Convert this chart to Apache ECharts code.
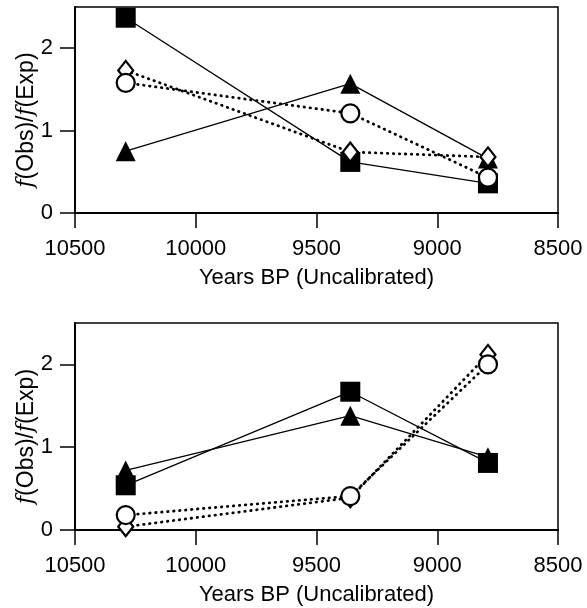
<!DOCTYPE html>
<html>
<head>
<meta charset="utf-8">
<script src="https://cdn.jsdelivr.net/npm/echarts@6/dist/echarts.min.js"></script>
<style>
  html, body { margin: 0; padding: 0; background: #fff; }
  #chart { width: 587px; height: 608px; }
</style>
</head>
<body>
<div id="chart"></div>
<script>
// sample ages (years BP) shared by both panels
const years = [10290, 9360, 8790];
const xTicks = [10500, 10000, 9500, 9000, 8500];
const yTicks = [0, 1, 2];

// top panel
const topSquare = [2.37, 0.62, 0.36];
const topTriangle = [0.75, 1.57, 0.66];
const topDiamond = [1.73, 0.74, 0.68];
const topCircle = [1.58, 1.21, 0.43];

// bottom panel
const botSquare = [0.54, 1.67, 0.81];
const botTriangle = [0.72, 1.38, 0.88];
const botDiamond = [0.04, 0.39, 2.12];
const botCircle = [0.18, 0.41, 2.0];

const font = "Liberation Sans";

function pairs(vals) {
  return years.map((y, i) => [y, vals[i]]);
}

function xAxis(idx) {
  return {
    gridIndex: idx,
    type: "value",
    inverse: true,
    min: 8500,
    max: 10500,
    interval: 500,
    name: "Years BP (Uncalibrated)",
    nameLocation: "middle",
    nameGap: 54,
    nameMoveOverlap: false,
    nameTextStyle: { color: "#000", fontFamily: font, fontSize: 22 },
    axisLine: { show: true, lineStyle: { color: "#000", width: 2 } },
    axisTick: { show: true, inside: false, length: 15, customValues: xTicks, lineStyle: { color: "#000", width: 1.5 } },
    axisLabel: {
      color: "#000", fontFamily: font, fontSize: 22, margin: 25, customValues: xTicks,
      formatter: (v) => String(v),
    },
    splitLine: { show: false },
  };
}

function yAxis(idx) {
  return {
    gridIndex: idx,
    type: "value",
    min: 0,
    max: 2.5,
    interval: 1,
    name: "{i|f}{n|(Obs)/}{i|f}{n|(Exp)}",
    nameLocation: "middle",
    nameRotate: 90,
    nameGap: 37,
    nameMoveOverlap: false,
    nameTextStyle: {
      color: "#000",
      fontFamily: font,
      fontSize: 22,
      padding: [0, 20, 0, 0],
      rich: {
        i: { fontStyle: "italic", fontFamily: "DejaVu Serif", fontSize: 22, color: "#000" },
        n: { fontFamily: font, fontSize: 23, color: "#000" },
      },
    },
    axisLine: { show: true, lineStyle: { color: "#000", width: 2 } },
    axisTick: { show: true, inside: false, length: 15, customValues: yTicks, lineStyle: { color: "#000", width: 1.5 } },
    axisLabel: { color: "#000", fontFamily: font, fontSize: 22, margin: 22, customValues: yTicks },
    splitLine: { show: false },
  };
}

function solid(idx, vals, symbol, size) {
  return {
    type: "line",
    xAxisIndex: idx,
    yAxisIndex: idx,
    data: pairs(vals),
    symbol: symbol,
    symbolSize: size,
    showAllSymbol: true,
    lineStyle: { color: "#000", width: 1.3 },
    itemStyle: { color: "#000", borderColor: "#000", borderWidth: 0 },
    emphasis: { disabled: true },
    animation: false,
  };
}

function dotted(idx, vals, symbol, size) {
  return {
    type: "line",
    xAxisIndex: idx,
    yAxisIndex: idx,
    data: pairs(vals),
    symbol: symbol,
    symbolSize: size,
    showAllSymbol: true,
    lineStyle: { color: "#000", width: 2.8, type: [0.5, 5.5], cap: "round" },
    itemStyle: { color: "#fff", borderColor: "#000", borderWidth: 2.2 },
    emphasis: { disabled: true },
    animation: false,
  };
}

const chart = echarts.init(document.getElementById("chart"));
chart.setOption({
  backgroundColor: "#fff",
  animation: false,
  grid: [
    { left: 75, top: 7, width: 483, height: 206, show: true, borderColor: "#000", borderWidth: 1.5, backgroundColor: "transparent" },
    { left: 75, top: 323, width: 483, height: 207, show: true, borderColor: "#000", borderWidth: 1.5, backgroundColor: "transparent" },
  ],
  xAxis: [xAxis(0), xAxis(1)],
  yAxis: [yAxis(0), yAxis(1)],
  series: [
    solid(0, topSquare, "rect", 20),
    solid(0, topTriangle, "triangle", 20),
    dotted(0, topDiamond, "diamond", [15, 19]),
    dotted(0, topCircle, "circle", 18),
    solid(1, botSquare, "rect", 20),
    solid(1, botTriangle, "triangle", 20),
    dotted(1, botDiamond, "diamond", [15, 19]),
    dotted(1, botCircle, "circle", 18),
  ],
});
</script>
</body>
</html>
